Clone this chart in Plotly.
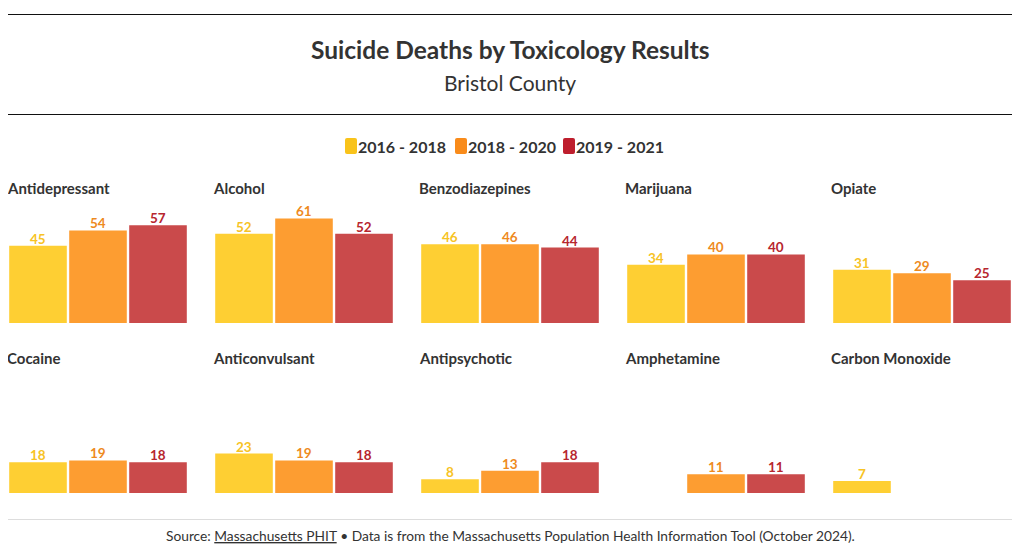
import plotly.graph_objects as go

categories = ["Antidepressant", "Alcohol", "Benzodiazepines", "Marijuana", "Opiate",
              "Cocaine", "Anticonvulsant", "Antipsychotic", "Amphetamine", "Carbon Monoxide"]
series_names = ["2016 - 2018", "2018 - 2020", "2019 - 2021"]
vals_2016_2018 = [45, 52, 46, 34, 31, 18, 23, 8, None, 7]
vals_2018_2020 = [54, 61, 46, 40, 29, 19, 19, 13, 11, None]
vals_2019_2021 = [57, 52, 44, 40, 25, 18, 18, 18, 11, None]
series_values = [vals_2016_2018, vals_2018_2020, vals_2019_2021]

bar_colors = ["#FECF33", "#FD9D31", "#CA4A4B"]
label_colors = ["#F7C325", "#EE8A1E", "#B7262E"]
legend_colors = ["#F9C31A", "#F98B1A", "#BE1E2D"]

# the page body has an 8px margin; work in window pixels and convert
OFF = 8
W, H = 1020 - 2 * OFF, 544 - OFF
FONT = "Lato"

fig = go.Figure()

def px_x(p):
    return (p - OFF) / W

def px_y(p):
    return 1 - (p - OFF) / H

col_w = 206
plot_w = 180
row_tops = [203, 373]
row_bottoms = [323, 493]
title_y = [188, 358]

annotations = []
for k, cat in enumerate(categories):
    r, c = divmod(k, 5)
    ax_id = "" if k == 0 else str(k + 1)
    x0 = 8 + col_w * c
    x1 = x0 + plot_w
    fig.layout["xaxis" + ax_id] = dict(
        domain=[px_x(x0), px_x(x1)], anchor="y" + ax_id,
        type="category", categoryorder="array", categoryarray=series_names,
        range=[-0.5, 2.5], showticklabels=False, showgrid=False, zeroline=False,
        showline=False, ticks="", fixedrange=True)
    fig.layout["yaxis" + ax_id] = dict(
        domain=[px_y(row_bottoms[r]), px_y(row_tops[r])], anchor="x" + ax_id,
        range=[0, 70], showticklabels=False, showgrid=False, zeroline=False,
        showline=False, ticks="", fixedrange=True)
    for s, name in enumerate(series_names):
        v = series_values[s][k]
        if v is None:
            continue
        fig.add_trace(go.Bar(
            x=[name], y=[v],
            marker=dict(color=bar_colors[s], line=dict(width=0)),
            width=0.96, name=name, showlegend=False,
            xaxis="x" + ax_id, yaxis="y" + ax_id, hoverinfo="skip"))
        annotations.append(dict(
            text="<b>%d</b>" % v, x=name, y=v, xref="x" + ax_id, yref="y" + ax_id,
            xanchor="center", yanchor="bottom", yshift=-3, showarrow=False,
            font=dict(family=FONT, size=13.5, color=label_colors[s])))
    annotations.append(dict(
        text="<b>" + cat + "</b>", x=px_x(x0 - 3), y=px_y(title_y[r]), xref="paper", yref="paper",
        xanchor="left", yanchor="middle", showarrow=False,
        font=dict(family=FONT, size=15, color="#333333")))

shapes = [
    dict(type="line", xref="paper", yref="paper", x0=0, x1=1, y0=px_y(14.5), y1=px_y(14.5),
         line=dict(color="#111111", width=1)),
    dict(type="line", xref="paper", yref="paper", x0=0, x1=1, y0=px_y(114.5), y1=px_y(114.5),
         line=dict(color="#111111", width=1)),
    dict(type="line", xref="paper", yref="paper", x0=0, x1=1, y0=px_y(519.5), y1=px_y(519.5),
         line=dict(color="#dddddd", width=1)),
]

# legend drawn as rounded swatches + labels
legend_x = [345, 455, 563]
for s, name in enumerate(series_names):
    lx = legend_x[s]
    a, b = px_x(lx), px_x(lx + 12)
    top, bot = px_y(138), px_y(154)
    rx, ry = 2 / W, 2 / H
    path = (f"M{a+rx},{top} L{b-rx},{top} Q{b},{top} {b},{top-ry} L{b},{bot+ry} Q{b},{bot} {b-rx},{bot} "
            f"L{a+rx},{bot} Q{a},{bot} {a},{bot+ry} L{a},{top-ry} Q{a},{top} {a+rx},{top} Z")
    shapes.append(dict(type="path", xref="paper", yref="paper", path=path,
                       fillcolor=legend_colors[s], line=dict(width=0)))
    annotations.append(dict(text="<b>" + name + "</b>", x=px_x(lx + 11), y=px_y(146),
                            xref="paper", yref="paper", xanchor="left", yanchor="middle",
                            showarrow=False, font=dict(family=FONT, size=16, color="#333333")))

annotations += [
    dict(text="<b>Suicide Deaths by Toxicology Results</b>", x=px_x(510), y=px_y(49),
         xref="paper", yref="paper", xanchor="center", yanchor="middle", showarrow=False,
         font=dict(family=FONT, size=24.5, color="#333333")),
    dict(text="Bristol County", x=px_x(510), y=px_y(82), xref="paper", yref="paper",
         xanchor="center", yanchor="middle", showarrow=False,
         font=dict(family=FONT, size=21, color="#333333")),
    dict(text="Source: <u>Massachusetts PHIT</u> • Data is from the Massachusetts Population Health Information Tool (October 2024).",
         x=px_x(510), y=px_y(535), xref="paper", yref="paper", xanchor="center", yanchor="middle",
         showarrow=False, font=dict(family=FONT, size=13.75, color="#333333")),
]

fig.update_layout(
    width=W, height=H, margin=dict(l=0, r=0, t=0, b=0),
    paper_bgcolor="white", plot_bgcolor="white",
    barmode="overlay", showlegend=False,
    annotations=annotations, shapes=shapes,
    font=dict(family=FONT),
)

fig.write_html("out.html")
